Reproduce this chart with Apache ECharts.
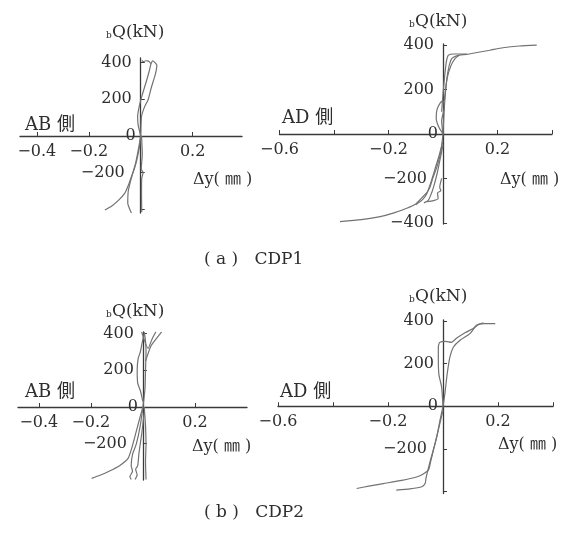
<!DOCTYPE html>
<html>
<head>
<meta charset="utf-8">
<script src="https://cdn.jsdelivr.net/npm/echarts@6/dist/echarts.min.js"></script>
<style>html,body{margin:0;padding:0;background:#fff}#c{width:577px;height:533px}</style>
</head>
<body>
<div id="c"></div>
<script>
// ---- tick labels ----
const xTicksLeft = [-0.4, -0.2, 0.2];
const xTicksRight = [-0.6, -0.2, 0.2];
const xTickMarksLeft = [-0.4, -0.2, 0, 0.2];
const xTickMarksRight = [-0.6, -0.4, -0.2, 0, 0.2, 0.4];
const yTicksA1 = [400, 200, 0, -200];
const yTicksA2 = [400, 200, 0, -200, -400];
const yTicksB1 = [400, 200, 0, -200];
const yTicksB2 = [400, 200, 0, -200];
const yTickMarks = [-400, -200, 0, 200, 400];
const captions = ['( a )   CDP1', '( b )   CDP2'];
const sideLabels = ['AB 側', 'AD 側'];

// ---- (a) CDP1, AB side : [Δy (mm), bQ (kN)] ----
const a1Pos1 = [[0,0],[0.003,105],[0.015,160],[0.028,196],[0.04,260],[0.055,330],[0.06,360],[0.062,385],[0.055,400],[0.045,410],[0.04,395],[0.03,408],[0.02,410],[0.01,405],[0.004,412]];
const a1Pos2 = [[0,0],[-0.01,60],[-0.012,105],[-0.006,160],[0.005,220],[0.02,290],[0.032,350],[0.04,397]];
const a1Neg1 = [[0,0],[-0.005,-60],[-0.015,-130],[-0.025,-180],[-0.036,-222],[-0.048,-270],[-0.062,-313],[-0.085,-350],[-0.11,-380],[-0.138,-404]];
const a1Neg2 = [[0,0],[-0.01,-80],[-0.02,-150],[-0.03,-200],[-0.04,-250],[-0.048,-300],[-0.05,-367],[-0.045,-390],[-0.036,-420]];
const a1Neg3 = [[0.003,0],[0.006,-100],[0.002,-180],[0.009,-200],[0.004,-230],[0.003,-320],[0.004,-415]];

// ---- (a) CDP1, AD side ----
const a2Pos1 = [[0,0],[0.004,100],[0.01,200],[0.018,280],[0.028,330],[0.038,345],[0.06,355],[0.087,358],[0.13,368],[0.172,377],[0.22,388],[0.28,396],[0.344,400]];
const a2Pos2 = [[-0.005,100],[0,180],[0.006,260],[0.013,330],[0.02,355],[0.04,360],[0.087,360]];
const a2Pos3 = [[0.005,150],[0.015,250],[0.03,310],[0.045,340],[0.06,355]];
const a2Small = [[0,0],[-0.015,30],[-0.025,70],[-0.022,110],[-0.01,140],[0,150],[0.005,120],[-0.005,60],[0,0]];
const a2Neg1 = [[0,0],[-0.008,-80],[-0.023,-150],[-0.038,-200],[-0.048,-240],[-0.06,-265],[-0.072,-280],[-0.1,-315],[-0.133,-334],[-0.18,-355],[-0.231,-372],[-0.3,-385],[-0.378,-394]];
const a2Neg2 = [[0,-30],[-0.015,-100],[-0.03,-160],[-0.045,-220],[-0.06,-270],[-0.075,-295],[-0.1,-318]];
const a2Neg3 = [[0,-50],[-0.01,-110],[-0.022,-180],[-0.035,-240],[-0.045,-275],[-0.055,-300],[-0.07,-310]];
const a2Neg4 = [[-0.005,-200],[-0.012,-240],[-0.008,-255],[-0.02,-265],[-0.018,-290],[-0.035,-300],[-0.06,-305]];

// ---- (b) CDP2, AB side ----
const b1Pos1 = [[0,0],[0.008,100],[0.01,200],[0.012,300],[0.01,360],[0.005,410]];
const b1Pos2 = [[0,30],[-0.01,90],[-0.02,130],[-0.022,200],[-0.018,266],[-0.01,300],[-0.003,350],[0.005,400]];
const b1Pos3 = [[0.01,250],[0.03,330],[0.05,370],[0.072,410]];
const b1Pos4 = [[-0.005,410],[0.02,320],[0.035,370],[0.05,410]];
const b1Neg1 = [[0,0],[-0.01,-50],[-0.025,-130],[-0.04,-210],[-0.057,-280],[-0.09,-320],[-0.13,-350],[-0.165,-372],[-0.197,-389]];
const b1Neg2 = [[0,0],[-0.01,-100],[-0.025,-200],[-0.04,-260],[-0.045,-320],[-0.04,-350],[-0.05,-380],[-0.045,-395]];
const b1Neg3 = [[0.005,-30],[-0.005,-150],[-0.015,-250],[-0.02,-320],[-0.028,-340],[-0.022,-370],[-0.03,-395]];
const b1Neg4 = [[0.005,0],[0.01,-100],[0.012,-200],[0.01,-300],[0.012,-395]];

// ---- (b) CDP2, AD side ----
const b2Pos1 = [[0,0],[0.007,60],[0.015,150],[0.025,231],[0.038,278],[0.062,310],[0.098,341],[0.122,380],[0.147,388],[0.17,388],[0.19,388]];
const b2Pos2 = [[0,0],[-0.005,90],[-0.015,150],[-0.017,230],[-0.017,278],[-0.012,300],[0.01,305],[0.03,300],[0.05,320],[0.08,345],[0.11,365],[0.13,385],[0.147,392]];
const b2Neg1 = [[0,0],[-0.011,-66],[-0.022,-140],[-0.035,-207],[-0.045,-260],[-0.053,-300],[-0.075,-320],[-0.096,-332],[-0.15,-348],[-0.217,-363],[-0.27,-375],[-0.314,-386]];
const b2Neg2 = [[0,-20],[-0.015,-100],[-0.03,-180],[-0.045,-250],[-0.055,-300],[-0.062,-340],[-0.065,-363],[-0.077,-378],[-0.12,-388],[-0.17,-394]];

const panels = [
  {grid:{left:20, width:222, top:58, height:155}, x:[-0.465,0.39], y:[-420,425], xl:xTicksLeft, xt:xTickMarksLeft, yl:yTicksA1, curves:[a1Pos1,a1Pos2,a1Neg1,a1Neg2,a1Neg3]},
  {grid:{left:279.5, width:272.5, top:44, height:180}, x:[-0.6,0.4], y:[-405,405], xl:xTicksRight, xt:xTickMarksRight, yl:yTicksA2, curves:[a2Pos1,a2Pos2,a2Pos3,a2Small,a2Neg1,a2Neg2,a2Neg3,a2Neg4]},
  {grid:{left:18, width:229, top:332, height:148}, x:[-0.48,0.4], y:[-398,409], xl:xTicksLeft, xt:xTickMarksLeft, yl:yTicksB1, curves:[b1Pos1,b1Pos2,b1Pos3,b1Pos4,b1Neg1,b1Neg2,b1Neg3,b1Neg4]},
  {grid:{left:278, width:275, top:320, height:173.6}, x:[-0.6,0.4], y:[-410,405], xl:xTicksRight, xt:xTickMarksRight, yl:yTicksB2, curves:[b2Pos1,b2Pos2,b2Neg1,b2Neg2]}
];

const AXIS = '#3a3a3a', CURVE = '#727272', TXT = '#2e2e2e';
const SERIF = '"DejaVu Serif", "Liberation Serif", serif';
const minus = v => String(v).replace('-', '\u2212');
// the −200 label sits a little further from the axis than the others in the original
const yFmt = v => v === -200 ? '{f|' + minus(v) + '}' : (v === 0 ? '{z|0}' : '{n|' + minus(v) + '}');

const grid = [], xAxis = [], yAxis = [], series = [];
panels.forEach((p, i) => {
  const g = p.grid;
  const zeroFromLeft = (0 - p.x[0]) / (p.x[1] - p.x[0]) * g.width;
  const zeroFromBottom = (0 - p.y[0]) / (p.y[1] - p.y[0]) * g.height;
  grid.push(Object.assign({containLabel:false}, g));
  xAxis.push({
    type:'value', gridIndex:i, min:p.x[0], max:p.x[1], position:'bottom', offset:-zeroFromBottom,
    axisLine:{show:true, onZero:false, lineStyle:{color:AXIS, width:1.3}},
    axisTick:{show:true, inside:true, length:4, customValues:p.xt, lineStyle:{color:AXIS}},
    axisLabel:{show:true, customValues:p.xl, formatter:minus, color:TXT, fontFamily:SERIF, fontSize:16, margin:8},
    splitLine:{show:false}
  });
  yAxis.push({
    type:'value', gridIndex:i, min:p.y[0], max:p.y[1], position:'left', offset:-zeroFromLeft,
    axisLine:{show:true, onZero:false, lineStyle:{color:AXIS, width:1.3}},
    axisTick:{show:true, inside:true, length:4, customValues:yTickMarks.filter(v=>v>=p.y[0]&&v<=p.y[1]), lineStyle:{color:AXIS}},
    axisLabel:{show:true, customValues:p.yl, formatter:yFmt, color:TXT, fontFamily:SERIF, fontSize:16, margin:4,
      rich:{n:{fontFamily:SERIF, fontSize:16, color:TXT, padding:[0,5,0,0]},
            f:{fontFamily:SERIF, fontSize:16, color:TXT, padding:[0,12,0,0]},
            z:{fontFamily:SERIF, fontSize:16, color:TXT, padding:[0,1,0,0]}}},
    splitLine:{show:false}
  });
  p.curves.forEach(c => series.push({
    type:'line', xAxisIndex:i, yAxisIndex:i, data:c, showSymbol:false, smooth:0.2,
    lineStyle:{color:CURVE, width:1.2}, silent:true, animation:false
  }));
});

function txt(x, y, text, size, family, align) {
  return {type:'text', x:x, y:y, style:{text:text, fill:TXT, fontSize:size, fontFamily:family||SERIF, textAlign:align||'left', textVerticalAlign:'middle'}};
}
const CJK = '"DejaVu Serif", "Noto Sans CJK JP", serif';
const graphic = [
  // bQ titles
  txt(106, 36, 'b', 9), txt(112, 33, 'Q(kN)', 17),
  txt(409, 25, 'b', 9), txt(415, 22, 'Q(kN)', 17),
  txt(106, 315, 'b', 9), txt(112, 312, 'Q(kN)', 17),
  txt(409, 300, 'b', 9), txt(415, 297, 'Q(kN)', 17),
  // Δy
  txt(193, 180, 'Δy( ㎜ )', 16, CJK), txt(500, 180, 'Δy( ㎜ )', 16, CJK),
  txt(192, 447, 'Δy( ㎜ )', 16, CJK), txt(498, 445, 'Δy( ㎜ )', 16, CJK),
  // side labels
  txt(25, 125, sideLabels[0], 18, CJK), txt(282, 118, sideLabels[1], 18, CJK),
  txt(25, 392, sideLabels[0], 18, CJK), txt(280, 392, sideLabels[1], 18, CJK),
  // captions
  txt(204, 260, captions[0], 17), txt(204, 513, captions[1], 17)
];

const chart = echarts.init(document.getElementById('c'), null, {renderer:'canvas'});
chart.setOption({animation:false, backgroundColor:'#fff', grid, xAxis, yAxis, series, graphic});
</script>
</body>
</html>
